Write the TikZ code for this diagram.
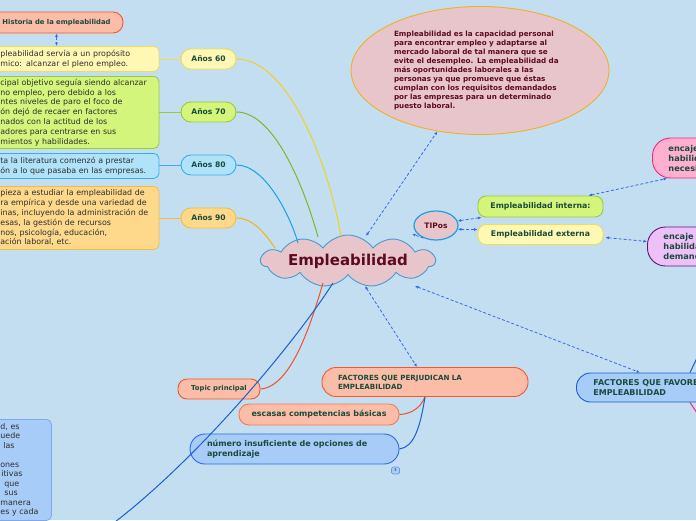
\documentclass[tikz,border=0pt]{standalone}
\usepackage{fontspec}
\setmainfont{DejaVu Sans}
\usetikzlibrary{shapes.symbols,shapes.geometric,arrows.meta,calc}
\definecolor{bg}{HTML}{C3DEF1}
\definecolor{pinkF}{HTML}{E7C5CB}
\definecolor{maroon}{HTML}{5C0A1E}
\definecolor{dgreen}{HTML}{1A4A3C}
\definecolor{txt}{HTML}{2E2E2E}
\definecolor{dblue}{HTML}{3A68E8}
\definecolor{yelF}{HTML}{FFF8B4}
\definecolor{yelD}{HTML}{EEDC5A}
\definecolor{yelL}{HTML}{EFD21E}
\definecolor{grnF}{HTML}{D4F57B}
\definecolor{grnD}{HTML}{98CA3E}
\definecolor{grnL}{HTML}{7DB828}
\definecolor{cyaF}{HTML}{B0E3F9}
\definecolor{cyaD}{HTML}{3AAEE4}
\definecolor{cyaL}{HTML}{1BA1E2}
\definecolor{orgF}{HTML}{FFD98B}
\definecolor{orgD}{HTML}{F5BC3A}
\definecolor{orgL}{HTML}{F6B01A}
\definecolor{salF}{HTML}{FBBCA8}
\definecolor{redD}{HTML}{F05A28}
\definecolor{redL}{HTML}{F0502A}
\definecolor{bluF}{HTML}{A8CCF8}
\definecolor{bluD}{HTML}{2A6CDE}
\definecolor{bluL}{HTML}{1A5FD0}
\definecolor{cloudD}{HTML}{4A9AD0}
\definecolor{ellD}{HTML}{F2B024}
\definecolor{pnkF}{HTML}{FFB0D0}
\definecolor{pnkD}{HTML}{EE2A7B}
\definecolor{purF}{HTML}{EEC0F8}
\definecolor{purD}{HTML}{5A1A70}
\begin{document}
\begin{tikzpicture}[x=1pt,y=-1pt,
  lbox/.style={align=left, text width=151pt, inner xsep=7.5pt, inner ysep=2pt,
    rounded corners=5pt, line width=0.8pt, anchor=north west,
    font=\fontsize{7.9}{9.8}\selectfont, text=txt},
  year/.style={rounded corners=10pt, minimum width=55pt, minimum height=20pt,
    line width=0.9pt, inner sep=0pt, font=\fontsize{7.6}{8}\selectfont\bfseries, text=dgreen},
  darr/.style={draw=dblue, dash pattern=on 3pt off 2pt, line width=0.8pt,
    {Latex[length=3.5pt,width=3pt]}-{Latex[length=3.5pt,width=3pt]}},
  pill/.style={line width=0.9pt, inner sep=0pt, text=dgreen}
]
\fill[bg] (0,0) rectangle (696,520);
\useasboundingbox (0,0) rectangle (696,520);
\clip (0,0) rectangle (696,520);

% history
\node[pill, draw=redD, fill=salF, rounded corners=10pt, minimum width=133pt, minimum height=21pt,
  font=\fontsize{6.8}{8}\selectfont\bfseries] (hist) at (56.5,22.5) {Historia de la empleabilidad};

% left text boxes
\node[lbox, draw=yelD, fill=yelF, minimum height=25pt] (b60) at (-7.5,46)
 {pleabilidad servía a un propósito\\mico: alcanzar el pleno empleo.};
\node[lbox, draw=grnD, fill=grnF, minimum height=72pt] (b70) at (-7.5,76)
 {cipal objetivo seguía siendo alcanzar\\no empleo, pero debido a los\\ntes niveles de paro el foco de\\ón dejó de recaer en factores\\nados con la actitud de los\\adores para centrarse en sus\\mientos y habilidades.};
\node[lbox, draw=cyaD, fill=cyaF, minimum height=25pt] (b80) at (-7.5,153)
 {ta la literatura comenzó a prestar\\ón a lo que pasaba en las empresas.};
\node[lbox, draw=orgD, fill=orgF, minimum height=63pt] (b90) at (-7.5,186)
 {pieza a estudiar la empleabilidad de\\ra empírica y desde una variedad de\\inas, incluyendo la administración de\\esas, la gestión de recursos\\nos, psicología, educación,\\ación laboral, etc.};

% year nodes
\node[year, draw=yelD, fill=yelF] (a60) at (208.5,59) {Años 60};
\node[year, draw=grnD, fill=grnF] (a70) at (208.5,112) {Años 70};
\node[year, draw=cyaD, fill=cyaF] (a80) at (208.5,165) {Años 80};
\node[year, draw=orgD, fill=orgF] (a90) at (208.5,218) {Años 90};

% central cloud
\node[cloud, cloud puffs=11, cloud puff arc=110, cloud ignores aspect, draw=cloudD, fill=pinkF,
  line width=0.9pt, minimum width=174pt, minimum height=52pt, inner sep=0pt,
  font=\fontsize{15}{17}\selectfont\bfseries, text=maroon] (main) at (348,261) {Empleabilidad};

% definition ellipse
\node[ellipse, draw=ellD, fill=pinkF, line width=0.9pt, minimum width=258pt, minimum height=128pt,
  inner sep=0pt, align=left, text width=172pt, font=\fontsize{7.2}{9.1}\selectfont\bfseries,
  text=maroon] (def) at (480,70.5)
 {Empleabilidad es la capacidad personal\\para encontrar empleo y adaptarse al\\mercado laboral de tal manera que se\\evite el desempleo. La empleabilidad da\\más oportunidades laborales a las\\personas ya que promueve que éstas\\cumplan con los requisitos demandados\\por las empresas para un determinado\\puesto laboral.};

% tipos
\node[ellipse, draw=cyaL, fill=pinkF, line width=1.2pt, minimum width=44pt, minimum height=29pt,
  inner sep=0pt, font=\fontsize{7.5}{8}\selectfont\bfseries, text=maroon] (tipos) at (436,225.5) {TIPos};
\node[pill, draw=grnD, fill=grnF, rounded corners=8pt, minimum width=125pt, minimum height=21pt,
  font=\fontsize{7.8}{9}\selectfont\bfseries] (int) at (540.5,206.5) {Empleabilidad interna:};
\node[pill, draw=yelD, fill=yelF, rounded corners=8pt, minimum width=125pt, minimum height=20pt,
  font=\fontsize{7.8}{9}\selectfont\bfseries] (ext) at (540.5,234.5) {Empleabilidad externa};
\node[pill, draw=pnkD, fill=pnkF, rounded corners=18pt, minimum width=110pt, minimum height=40pt,
  anchor=west, align=left, text width=78pt, inner xsep=16pt,
  font=\fontsize{8.2}{10}\selectfont\bfseries] (enc1) at (652,158) {encaje\\habilid\\necesi};
\node[pill, draw=purD, fill=purF, rounded corners=18pt, minimum width=110pt, minimum height=39pt,
  anchor=west, align=left, text width=78pt, inner xsep=16pt,
  font=\fontsize{8.2}{9.6}\selectfont\bfseries] (enc2) at (647,246.5) {encaje\\habilida\\demand};

% factores favor
\node[pill, draw=bluL, fill=bluF, rounded corners=14pt, minimum width=160pt, minimum height=29pt,
  anchor=west, align=left, text width=126pt, inner xsep=17pt,
  font=\fontsize{8}{10}\selectfont\bfseries] (fav) at (576,387.5) {FACTORES QUE FAVORE\\EMPLEABILIDAD};
% factores perjudican
\node[pill, draw=redD, fill=salF, rounded corners=14pt, minimum width=206pt, minimum height=29pt,
  align=left, text width=174pt, inner xsep=16pt,
  font=\fontsize{7.1}{9}\selectfont\bfseries] (perj) at (425,382) {FACTORES QUE PERJUDICAN LA\\EMPLEABILIDAD};
\node[pill, draw=redD!80!white, fill=salF, rounded corners=10pt, minimum width=160pt, minimum height=21pt,
  font=\fontsize{7.9}{9}\selectfont\bfseries] (esc) at (319,414.5) {escasas competencias básicas};
\node[pill, draw=bluD, fill=bluF, rounded corners=15pt, minimum width=209pt, minimum height=30pt,
  align=left, text width=175pt, inner xsep=17pt,
  font=\fontsize{8}{10.5}\selectfont\bfseries] (num) at (294.5,449) {número insuficiente de opciones de\\aprendizaje};
\node[draw=bluD!70!white, fill=bluF, rounded corners=1.5pt, line width=0.7pt, minimum width=8pt,
  minimum height=7pt, inner sep=0pt, font=\fontsize{4}{4}\selectfont, text=txt] (badge) at (395.5,470.5) {3};
\node[pill, draw=redD, fill=salF, rounded corners=9pt, minimum width=82pt, minimum height=20pt,
  font=\fontsize{6.8}{8}\selectfont\bfseries] (topic) at (219,389) {Topic principal};

% bottom-left box
\node[lbox, draw=bluD!60!white, fill=bluF, text width=41pt, inner xsep=10pt, inner ysep=4pt,
  font=\fontsize{7.9}{9.5}\selectfont] (bl) at (-10,419)
 {d, es\\uede\\\hspace*{3pt}las\\\mbox{}\\ones\\\hspace*{1pt}itivas\\\hspace*{4pt}que\\\hspace*{4pt}sus\\manera\\es y cada};

% connectors box -> year
\draw[yelD, line width=0.8pt] (b60.east |- a60.west) -- (a60.west);
\draw[grnD, line width=0.8pt] (b70.east |- a70.west) -- (a70.west);
\draw[cyaD, line width=0.8pt] (b80.east |- a80.west) -- (a80.west);
\draw[orgD, line width=0.8pt] (b90.east |- a90.west) -- (a90.west);

% year -> main curves
\draw[yelL, line width=1pt] (a60.east) .. controls (290,59) and (330,170) .. ($(main.center)+(-7,-25)$);
\draw[grnL, line width=1pt] (a70.east) .. controls (275,112) and (305,190) .. ($(main.center)+(-30,-24)$);
\draw[cyaL, line width=1pt] (a80.east) .. controls (265,165) and (290,215) .. ($(main.center)+(-50,-18)$);
\draw[orgL, line width=1pt] (a90.east) .. controls (255,218) and (268,238) .. ($(main.center)+(-73,-13)$);

% dashed arrows
\draw[darr] (hist.south) -- (hist.south |- b60.north);
\draw[darr] ($(main.center)+(18,-25)$) -- (def.235);
\draw[draw=dblue, dash pattern=on 3pt off 2pt, line width=0.8pt, -{Latex[length=3.5pt,width=3pt]}]
  (tipos.225) -- ($(main.center)+(64,-27)$);
\draw[darr] (tipos.12) -- ($(int.south west)+(4,0)$);
\draw[darr] (tipos.-10) -- ($(ext.west)+(0,-5)$);
\draw[darr] ($(int.north east)+(-15,0)$) -- ($(enc1.south west)+(15,0)$);
\draw[darr] ($(ext.east)+(2,3)$) -- ($(enc2.west)+(0,-5)$);
\draw[darr] ($(main.center)+(67,25)$) -- ($(fav.north west)+(64,0)$);
\draw[darr] ($(main.center)+(17,25)$) -- ($(perj.north)+(-8,0)$);

% solid branches
\draw[redL, line width=1pt] (perj.south) .. controls (421,407) and (412,414) .. (esc.east);
\draw[bluL, line width=1pt] (perj.south) .. controls (420,428) and (414,447) .. (num.east);
\draw[redL, line width=1pt] (topic.east) .. controls (292,387) and (312,320) .. ($(main.center)+(-25,22)$);
\draw[bluL, line width=1pt] ($(main.center)+(-15,22)$) .. controls (290,350) and (180,480) .. (90,540);
\draw[bluL, line width=1pt] ($(fav.north west)+(114,0)$) -- +(12,-25);
\draw[pnkD, line width=1pt] ($(fav.south west)+(114,0)$) -- +(10,15);
\end{tikzpicture}
\end{document}
